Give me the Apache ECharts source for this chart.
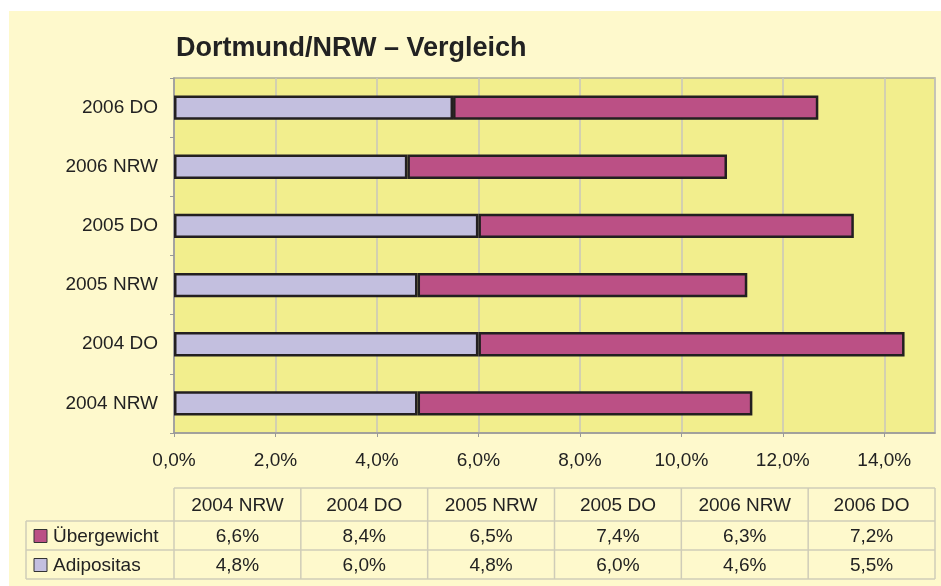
<!DOCTYPE html>
<html>
<head>
<meta charset="utf-8">
<script src="https://cdn.jsdelivr.net/npm/echarts@6/dist/echarts.min.js"></script>
<style>
  body { margin: 0; background: #fff; }
  #bg { position: absolute; left: 9px; top: 11px; width: 932px; height: 575px; background: #FEF9CC; }
  #chart { position: absolute; left: 0; top: 0; width: 941px; height: 586px; }
</style>
</head>
<body>
<div id="bg"></div>
<div id="chart"></div>
<script>
// Daten (in %), Reihenfolge wie in der Tabelle / Achse von unten nach oben
var categories = ['2004 NRW', '2004 DO', '2005 NRW', '2005 DO', '2006 NRW', '2006 DO'];
var adipositas = [4.8, 6.0, 4.8, 6.0, 4.6, 5.5];
var uebergewicht = [6.6, 8.4, 6.5, 7.4, 6.3, 7.2];
var xTicks = [0, 2, 4, 6, 8, 10, 12, 14];

var colAdip = '#C3BFDF';
var colUeber = '#BB5085';
var fontFam = '"Liberation Sans", Arial, sans-serif';
var fs = 19;

function pct (v) {
  return v.toFixed(1).replace('.', ',') + '%';
}

// Datentabelle unter dem Diagramm
var gridLeft = 174, gridRight = 935;
var colW = (gridRight - gridLeft) / categories.length;
var rowY = [488, 521, 550, 579];
var legendLeft = 26;
var lineStyle = { stroke: '#CFCCB8', lineWidth: 1.5 };
var tableEls = [];

// horizontale Linien
tableEls.push({ type: 'line', shape: { x1: gridLeft, y1: rowY[0], x2: gridRight, y2: rowY[0] }, style: lineStyle });
for (var r = 1; r < rowY.length; r++) {
  tableEls.push({ type: 'line', shape: { x1: legendLeft, y1: rowY[r], x2: gridRight, y2: rowY[r] }, style: lineStyle });
}
// vertikale Linien
tableEls.push({ type: 'line', shape: { x1: legendLeft, y1: rowY[1], x2: legendLeft, y2: rowY[3] }, style: lineStyle });
for (var c = 0; c <= categories.length; c++) {
  var x = gridLeft + c * colW;
  tableEls.push({ type: 'line', shape: { x1: x, y1: rowY[0], x2: x, y2: rowY[3] }, style: lineStyle });
}

var rows = [
  { name: 'Übergewicht', color: colUeber, values: uebergewicht },
  { name: 'Adipositas', color: colAdip, values: adipositas }
];

categories.forEach(function (cat, i) {
  tableEls.push({
    type: 'text', x: gridLeft + (i + 0.5) * colW, y: (rowY[0] + rowY[1]) / 2 + 1,
    style: { text: cat, fill: '#222', font: fs + 'px ' + fontFam, align: 'center', verticalAlign: 'middle' }
  });
});
rows.forEach(function (row, r) {
  var yMid = (rowY[r + 1] + rowY[r + 2]) / 2 + 1;
  tableEls.push({
    type: 'rect', shape: { x: 34, y: yMid - 7, width: 13, height: 13 },
    style: { fill: row.color, stroke: '#333', lineWidth: 1 }
  });
  tableEls.push({
    type: 'text', x: 53, y: yMid,
    style: { text: row.name, fill: '#222', font: fs + 'px ' + fontFam, align: 'left', verticalAlign: 'middle' }
  });
  row.values.forEach(function (v, i) {
    tableEls.push({
      type: 'text', x: gridLeft + (i + 0.5) * colW, y: yMid,
      style: { text: pct(v), fill: '#222', font: fs + 'px ' + fontFam, align: 'center', verticalAlign: 'middle' }
    });
  });
});

var chart = echarts.init(document.getElementById('chart'));

var option = {
  animation: false,
  backgroundColor: 'transparent',
  title: {
    text: 'Dortmund/NRW – Vergleich',
    left: 171,
    top: 30,
    textStyle: { fontFamily: fontFam, fontSize: 27, fontWeight: 'bold', color: '#222' }
  },
  grid: {
    left: gridLeft,
    top: 78,
    width: gridRight - gridLeft,
    height: 355,
    show: true,
    backgroundColor: '#F2EE8D',
    borderColor: '#ABA9A0',
    borderWidth: 1.5
  },
  xAxis: {
    type: 'value',
    min: 0,
    max: 15,
    interval: 2,
    axisLine: { show: true, lineStyle: { color: '#999', width: 1.5 } },
    axisTick: { show: true, length: 4, lineStyle: { color: '#999' } },
    splitLine: { show: true, lineStyle: { color: '#C8C6BC', width: 1.5 } },
    axisLabel: {
      showMaxLabel: false,
      margin: 18,
      fontFamily: fontFam,
      fontSize: fs,
      color: '#222',
      formatter: function (v) { return xTicks.indexOf(v) >= 0 ? pct(v) : ''; }
    }
  },
  yAxis: {
    type: 'category',
    data: categories,
    axisLine: { show: true, lineStyle: { color: '#999', width: 1.5 } },
    axisTick: { show: true, length: 4, lineStyle: { color: '#999' } },
    axisLabel: { margin: 16, fontFamily: fontFam, fontSize: fs, color: '#222' }
  },
  series: [
    {
      name: 'Adipositas',
      type: 'bar',
      stack: 'total',
      data: adipositas,
      barWidth: '41%',
      itemStyle: { color: colAdip, borderColor: '#231F20', borderWidth: 2.5 }
    },
    {
      name: 'Übergewicht',
      type: 'bar',
      stack: 'total',
      data: uebergewicht,
      barWidth: '41%',
      itemStyle: { color: colUeber, borderColor: '#231F20', borderWidth: 2.5 }
    }
  ],
  graphic: tableEls
};

chart.setOption(option);
</script>
</body>
</html>
